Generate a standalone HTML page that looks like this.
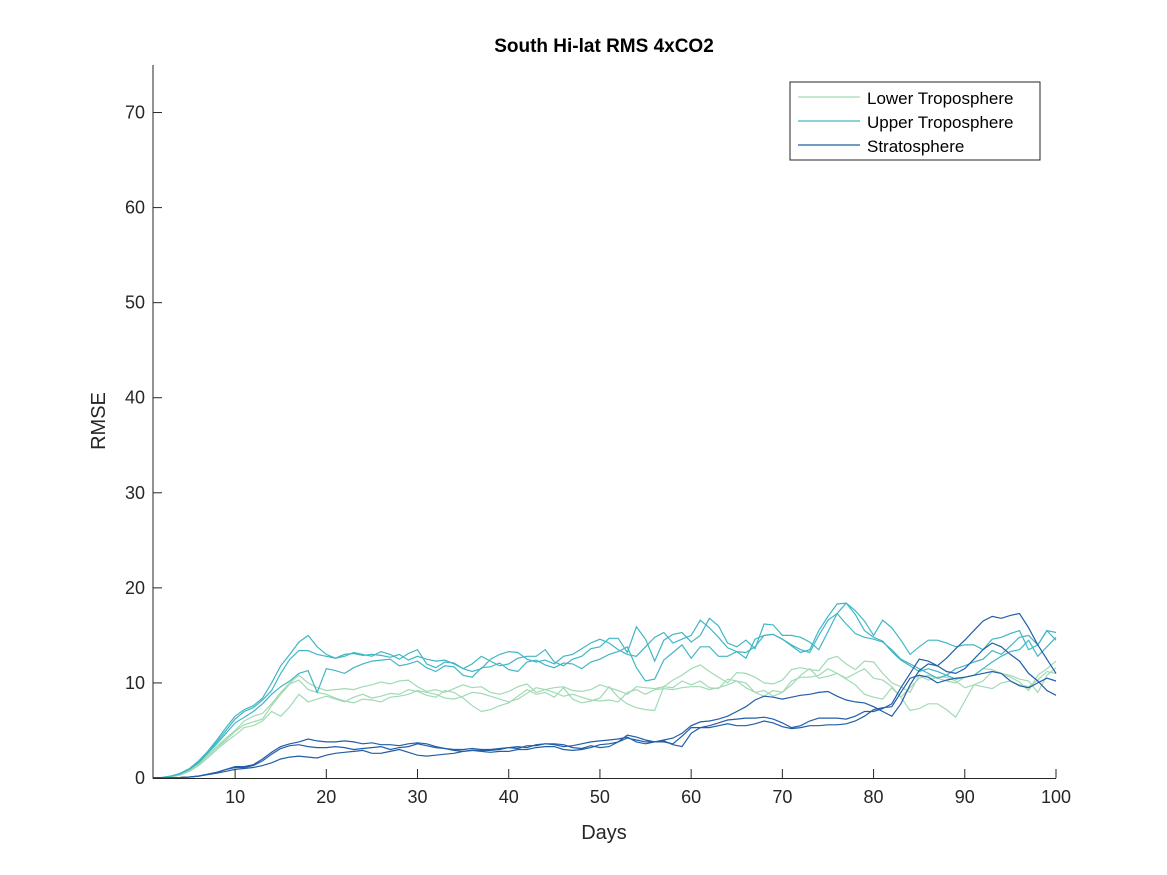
<!DOCTYPE html>
<html><head><meta charset="utf-8"><style>
html,body{margin:0;padding:0;background:#fff;}
svg{display:block;font-family:"Liberation Sans",sans-serif;}
</style></head><body>
<svg id="chart" width="1167" height="875" viewBox="0 0 1167 875" xmlns="http://www.w3.org/2000/svg">
<rect width="1167" height="875" fill="#fff"/>
<text x="604" y="52" text-anchor="middle" font-size="19" font-weight="bold" fill="#000">South Hi-lat RMS 4xCO2</text>
<g id="marks"></g>
<g id="axes"></g>
<text x="604" y="839" text-anchor="middle" font-size="20" fill="#262626">Days</text>
<text transform="translate(105,421) rotate(-90)" text-anchor="middle" font-size="20" fill="#262626">RMSE</text>
<g>
<rect x="790" y="82" width="250" height="78" fill="#fff" stroke="#262626" stroke-width="1"/>
<g><line x1="798" y1="97" x2="860" y2="97" stroke="#a1dab4" stroke-width="1.2"/><text x="867" y="104" font-size="17" fill="#000">Lower Troposphere</text></g>
<g><line x1="798" y1="121" x2="860" y2="121" stroke="#41b6c4" stroke-width="1.2"/><text x="867" y="128" font-size="17" fill="#000">Upper Troposphere</text></g>
<g><line x1="798" y1="145" x2="860" y2="145" stroke="#225ea8" stroke-width="1.2"/><text x="867" y="152" font-size="17" fill="#000">Stratosphere</text></g>
</g>
</svg>
<script>
const xTicks=[10,20,30,40,50,60,70,80,90,100];
const yTicks=[0,10,20,30,40,50,60,70];
const lower1=[0,0.05,0.15,0.35,0.8,1.5,2.4,3.3,4.2,5.0,6.0,6.5,6.8,7.8,9.0,10.0,10.8,10.0,9.5,9.2,9.3,9.4,9.3,9.6,9.8,10.1,9.9,10.2,10.3,9.6,9.1,9.3,9.0,9.4,9.8,9.5,9.6,9.0,8.8,9.1,9.6,9.9,9.0,9.3,9.5,9.6,9.2,9.1,9.3,9.8,9.5,9.2,8.8,9.6,9.5,9.4,9.6,10.3,10.8,11.5,11.9,11.2,10.6,10.0,11.1,11.0,10.6,10.0,9.9,10.3,11.4,11.6,11.4,11.3,12.5,12.8,12.0,11.4,12.3,12.2,11.0,10.0,9.6,9.0,10.8,10.3,10.6,10.6,10.2,9.5,9.8,10.2,11.2,11.0,10.6,10.1,9.2,10.8,11.5,12.3];
const lower2=[0,0.05,0.1,0.3,0.7,1.3,2.1,3.0,3.8,4.5,5.3,5.5,6.0,7.0,6.5,7.5,8.8,8.0,8.3,8.6,8.3,8.0,8.5,8.8,8.4,8.6,8.9,8.8,9.3,9.1,8.7,8.5,9.2,9.0,8.4,7.6,7.0,7.2,7.6,7.9,8.6,9.3,8.8,9.0,8.5,9.5,8.3,7.9,8.1,8.4,9.6,8.5,7.8,7.4,7.2,7.1,9.6,9.5,10.2,9.8,10.2,9.5,9.4,10.4,10.2,9.5,9.0,9.2,8.6,9.0,9.8,10.8,11.5,10.5,10.7,11.0,10.4,9.8,8.8,8.5,8.3,9.5,8.5,7.1,7.3,7.8,7.8,7.2,6.4,8.1,9.8,9.6,9.4,10.0,10.2,9.8,9.6,10.3,11.2,11.0];
const lower3=[0,0.05,0.15,0.35,0.8,1.4,2.3,3.2,4.0,4.9,5.6,5.9,6.2,7.6,8.8,9.9,10.3,9.3,9.0,8.8,8.4,8.1,7.9,8.3,8.2,8.0,8.5,8.6,8.8,9.2,9.0,8.8,8.4,8.3,8.6,9.0,8.9,8.6,8.3,8.0,8.3,8.9,9.5,9.3,9.0,8.6,8.8,8.5,8.2,8.1,8.2,8.0,9.0,9.3,8.8,9.3,9.4,9.3,9.5,9.6,9.6,9.3,9.5,9.8,10.2,10.0,9.0,8.6,9.2,9.0,10.2,10.6,10.6,10.8,11.5,11.0,10.5,11.0,11.5,10.5,10.3,9.6,8.5,9.5,10.5,10.8,10.5,10.2,10.0,10.6,10.8,11.5,11.4,11.0,10.8,10.4,10.2,9.0,10.8,11.6];
const upper1=[0,0.05,0.2,0.45,0.9,1.7,2.7,3.8,5.0,6.2,7.0,7.4,8.2,9.2,11.0,12.5,13.4,13.4,13.0,12.8,12.6,13.0,13.1,12.9,13.0,12.9,12.7,13.0,12.4,12.8,12.5,12.3,12.4,12.0,11.5,11.2,11.5,12.5,13.0,13.3,13.2,12.5,12.2,12.4,12.0,12.8,13.0,13.6,14.2,14.6,14.2,13.5,13.0,12.8,13.8,14.8,15.3,14.2,14.6,15.0,16.6,15.8,14.8,13.7,13.3,12.6,14.6,15.0,15.1,14.6,13.9,13.2,13.5,15.5,17.0,18.3,18.4,17.2,15.5,14.8,14.4,13.3,12.4,11.8,11.2,11.5,11.2,10.8,11.5,11.8,12.2,12.5,13.4,13.0,13.9,14.8,15.0,14.0,15.5,14.5];
const upper2=[0,0.05,0.2,0.5,1.0,1.8,2.8,4.0,5.3,6.5,7.2,7.6,8.4,10.0,11.8,13.0,14.3,15.0,13.8,13.0,12.6,12.8,13.2,13.0,12.8,13.3,13.0,12.5,13.1,13.5,12.0,11.6,12.2,12.1,11.5,12.0,12.8,12.3,11.8,12.0,12.6,12.8,12.8,13.5,12.2,11.8,12.5,12.8,13.6,13.8,14.7,14.7,13.2,15.9,14.6,12.3,14.5,15.1,15.3,14.3,15.0,16.8,16.0,14.2,13.8,14.5,13.6,16.2,16.1,15.0,15.0,14.8,14.3,13.5,15.4,17.3,18.4,17.6,16.5,15.0,16.6,15.8,14.5,13.0,13.8,14.5,14.5,14.2,13.8,14.0,14.0,13.5,14.6,14.8,15.2,15.5,13.5,14.0,15.5,15.3];
const upper3=[0,0.05,0.2,0.45,0.9,1.6,2.6,3.6,4.7,5.8,6.4,7.0,7.8,8.8,9.6,10.2,11.0,11.3,9.0,11.5,11.3,11.0,11.6,12.0,12.3,12.4,12.5,11.8,12.0,12.3,11.6,11.2,11.8,11.7,10.8,10.6,11.6,11.7,12.1,11.4,11.2,12.2,12.4,11.9,11.6,12.1,12.0,11.5,12.2,12.5,13.0,13.3,13.8,11.6,10.2,10.4,12.4,13.2,14.0,12.6,13.8,13.8,12.8,12.8,13.3,13.2,13.8,15.0,15.1,14.6,14.0,13.5,13.2,15.0,16.6,17.3,16.2,15.2,14.8,14.6,14.3,13.5,12.5,12.0,11.5,11.0,10.5,10.8,10.4,10.6,10.8,11.5,12.2,12.8,13.3,13.5,14.5,12.8,13.8,14.8];
const strat1=[0,0,0.02,0.05,0.1,0.2,0.4,0.6,0.9,1.1,1.1,1.3,1.8,2.5,3.1,3.4,3.5,3.3,3.2,3.2,3.3,3.2,3.0,3.1,3.2,3.3,3.0,3.2,3.3,3.6,3.4,3.2,3.1,3.0,3.0,3.1,3.0,3.0,3.1,3.2,3.3,3.2,3.5,3.6,3.5,3.3,3.4,3.6,3.8,3.9,4.0,4.1,4.3,3.8,3.6,3.8,4.0,4.2,4.7,5.5,5.9,6.0,6.2,6.5,7.0,7.5,8.2,8.6,8.5,8.3,8.5,8.7,8.8,9.0,9.1,8.6,8.2,8.0,7.9,7.5,7.0,6.5,7.8,9.8,11.3,12.0,11.8,12.6,13.6,14.5,15.5,16.5,17.0,16.8,17.1,17.3,15.8,14.0,12.5,11.0];
const strat2=[0,0,0.02,0.05,0.1,0.2,0.4,0.6,0.9,1.2,1.2,1.4,2.0,2.7,3.3,3.6,3.8,4.1,3.9,3.8,3.8,3.9,3.8,3.6,3.7,3.5,3.5,3.4,3.6,3.7,3.6,3.3,3.1,2.9,2.8,2.9,2.9,2.9,3.0,3.2,3.1,3.4,3.4,3.6,3.6,3.5,3.2,3.1,3.4,3.2,3.3,3.8,4.5,4.3,4.0,3.8,3.8,3.6,4.4,5.3,5.3,5.5,5.8,6.1,6.2,6.3,6.3,6.4,6.2,5.8,5.3,5.5,6.0,6.3,6.3,6.3,6.2,6.5,7.0,7.0,7.3,7.8,9.5,11.0,12.5,12.3,11.8,11.2,11.0,11.5,12.5,13.5,14.2,13.8,13.0,12.3,11.0,10.2,9.2,8.7];
const strat3=[0,0,0.02,0.05,0.1,0.2,0.35,0.5,0.7,0.9,1.0,1.1,1.3,1.6,2.0,2.2,2.3,2.2,2.1,2.4,2.6,2.7,2.8,2.9,2.6,2.6,2.8,3.0,2.7,2.4,2.3,2.4,2.5,2.6,2.8,2.9,2.8,2.7,2.8,2.8,3.0,3.0,3.2,3.3,3.3,3.0,2.9,3.0,3.2,3.5,3.6,3.8,4.2,4.0,3.8,3.8,3.9,3.5,3.3,4.7,5.3,5.3,5.5,5.7,5.5,5.5,5.7,6.0,5.8,5.4,5.2,5.3,5.5,5.5,5.6,5.6,5.7,6.0,6.5,7.2,7.4,7.5,9.0,10.5,10.8,10.6,10.0,10.3,10.5,10.6,10.8,11.0,11.2,11.0,10.2,9.7,9.5,10.0,10.5,10.2];

const NS="http://www.w3.org/2000/svg";
const X0=153,X1=1056,Y0=778,Y1=65,XMIN=1,XMAX=100,YMIN=0,YMAX=75;
function xs(v){return X0+(v-XMIN)/(XMAX-XMIN)*(X1-X0);}
function ys(v){return Y0-(v-YMIN)/(YMAX-YMIN)*(Y0-Y1);}
const marks=document.getElementById('marks');
const axes=document.getElementById('axes');
const series=[
 ['lower-troposphere-run-1',lower1,'#a1dab4'],
 ['lower-troposphere-run-2',lower2,'#a1dab4'],
 ['lower-troposphere-run-3',lower3,'#a1dab4'],
 ['upper-troposphere-run-1',upper1,'#41b6c4'],
 ['upper-troposphere-run-2',upper2,'#41b6c4'],
 ['upper-troposphere-run-3',upper3,'#41b6c4'],
 ['stratosphere-run-1',strat1,'#225ea8'],
 ['stratosphere-run-2',strat2,'#225ea8'],
 ['stratosphere-run-3',strat3,'#225ea8']];
series.forEach(s=>{
 const p=document.createElementNS(NS,'polyline');
 
 
 p.setAttribute('points',s[1].map((v,i)=>xs(i+1).toFixed(1)+','+ys(v).toFixed(1)).join(' '));
 p.setAttribute('fill','none');p.setAttribute('stroke',s[2]);p.setAttribute('stroke-width','1.2');
 marks.appendChild(p);
});
function ln(x1,y1,x2,y2,name){const l=document.createElementNS(NS,'line');
 
 
 l.setAttribute('x1',x1);l.setAttribute('y1',y1);l.setAttribute('x2',x2);l.setAttribute('y2',y2);
 l.setAttribute('stroke','#262626');l.setAttribute('stroke-width','1');axes.appendChild(l);}
function tx(x,y,t,anchor,name){const e=document.createElementNS(NS,'text');
 
 
 e.setAttribute('x',x);e.setAttribute('y',y);e.setAttribute('text-anchor',anchor);
 e.setAttribute('font-size','18');e.setAttribute('fill','#262626');e.textContent=t;axes.appendChild(e);}
ln(X0,Y1,X0,Y0+0.5,'y-axis-line');
ln(X0,Y0+0.5,X1,Y0+0.5,'x-axis-line');
xTicks.forEach(v=>{ln(xs(v),Y0,xs(v),Y0-9,'x-tick');tx(xs(v),Y0+25,String(v),'middle','x-tick-label');});
yTicks.forEach(v=>{ln(X0,ys(v),X0+9,ys(v),'y-tick');tx(X0-8,ys(v)+6,String(v),'end','y-tick-label');});
</script>
</body></html>
